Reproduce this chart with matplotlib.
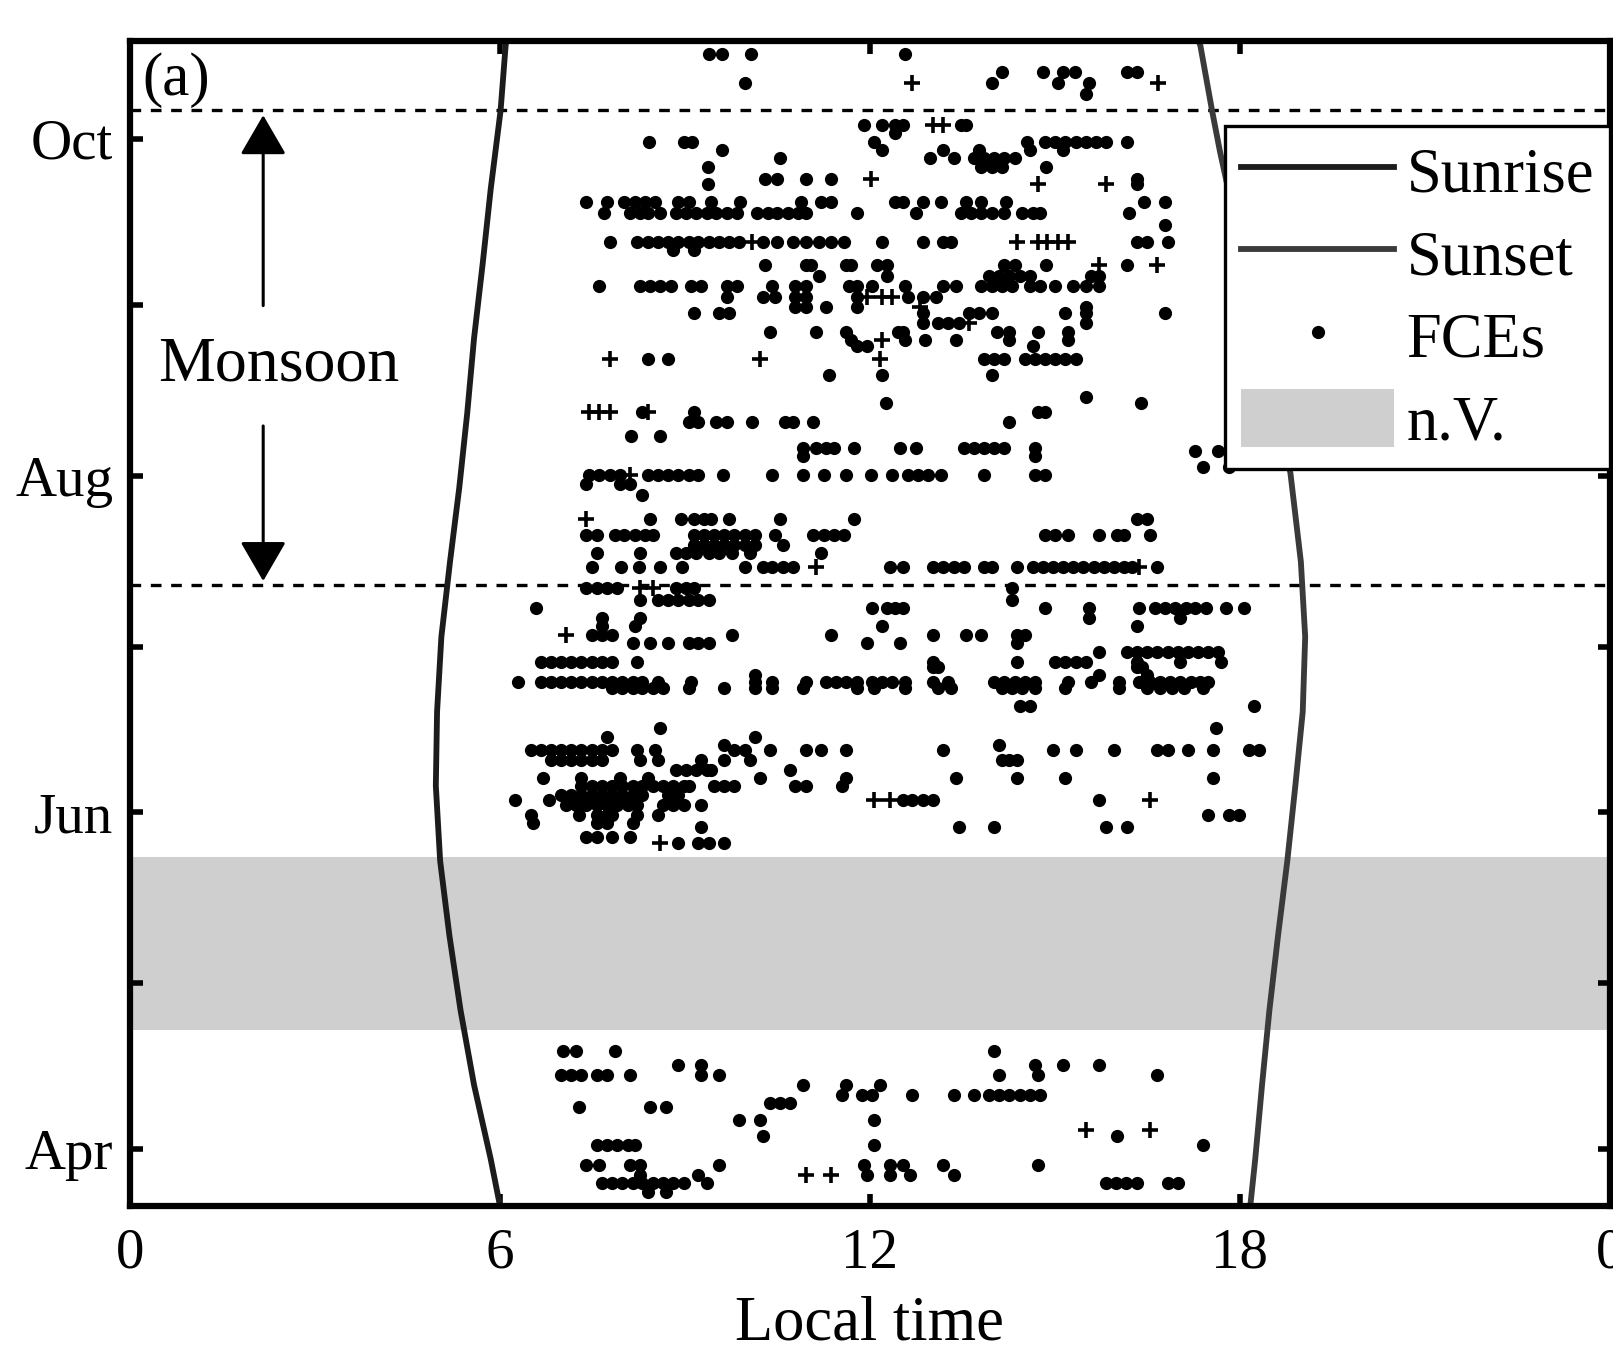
import numpy as np
import matplotlib
matplotlib.use("Agg")
from matplotlib import pyplot as plt

plt.rcParams['font.family'] = ['Liberation Serif', 'DejaVu Serif']

# day of year for the first of each month on the y axis
month_doy = [91, 121, 152, 182, 213, 244, 274]
month_lbl = ['Apr', '', 'Jun', '', 'Aug', '', 'Oct']

# sunrise / sunset (local time, hours) read at several days of year
sunrise_doy = [291.75, 290.6, 279.1, 264.9, 251.4, 237.9, 224.4, 210.8, 197.4, 183.8,
               170.2, 156.8, 143.2, 129.7, 116.2, 102.6, 89.2, 80.75]
sunrise_hr = [6.10, 6.09, 6.01, 5.85, 5.72, 5.58, 5.47, 5.34, 5.19, 5.05,
              4.98, 4.96, 5.03, 5.18, 5.36, 5.58, 5.85, 6.00]
sunset_doy = [291.75, 290.9, 279.1, 271.6, 213.5, 197.4, 183.8, 170.2, 156.8, 143.2,
              129.7, 116.2, 102.6, 89.2, 80.75]
sunset_hr = [17.33, 17.36, 17.55, 17.68, 18.82, 18.99, 19.06, 19.02, 18.90, 18.77,
             18.62, 18.48, 18.36, 18.25, 18.17]

monsoon_start = 193.2
monsoon_end = 279.2
nv_start, nv_end = 112.6, 143.9

# FCEs: one row per day, local times of the events
fce_day = [289.4, 286.2, 284.2, 282.2, 276.5, 275.0, 273.5, 272.0, 270.5, 268.9,
           266.8, 265.9, 262.6, 260.5, 258.4, 255.4, 253.9, 251.2, 249.1, 247.3,
           245.4, 243.6, 242.4, 240.6, 239.1, 237.6, 236.4, 234.1, 231.2, 227.3,
           226.1, 224.6, 222.8, 220.1, 218.0, 217.4, 216.5, 214.6, 213.1, 211.4,
           209.5, 205.1, 202.3, 200.5, 199.0, 196.5, 192.6, 190.5, 189.0, 187.2,
           185.7, 184.2, 182.6, 181.1, 179.3, 178.4, 176.9, 175.7, 174.5, 171.2,
           167.2, 165.7, 164.2, 163.3, 161.5, 159.7, 158.2, 156.7, 155.2, 154.3,
           153.4, 151.5, 150.0, 149.4, 147.6, 146.4,
           108.7, 106.3, 104.4, 102.6, 100.8, 99.3, 98.7, 96.3, 93.3, 91.8,
           88.1, 86.3, 84.8, 83.3]
fce_hours = [
    [9.39, 9.6, 10.07, 12.57],
    [14.14, 14.8, 15.13, 15.32, 16.17, 16.33],
    [9.97, 13.98, 15.05, 15.55],
    [15.5],
    [11.91, 12.2, 12.4, 12.53, 13.48, 13.56],
    [12.4],
    [8.42, 8.98, 9.12, 12.07, 14.55, 14.84, 15.01, 15.17, 15.34, 15.5, 15.67, 15.83, 16.17],
    [9.6, 12.2, 13.19, 13.77, 14.6, 15.13],
    [10.55, 12.98, 13.36, 13.69, 13.85, 14.02, 14.18, 14.35],
    [9.37, 13.81, 13.98, 14.14, 14.86],
    [10.3, 10.5, 10.96, 11.37, 16.33],
    [9.37, 16.33],
    [7.4, 7.74, 8.02, 8.19, 8.36, 8.52, 8.89, 9.06, 9.43, 9.9, 10.88, 11.21, 11.37, 12.4,
     12.53, 12.86, 13.15, 13.56, 13.81, 14.21, 16.45, 16.79],
    [7.69, 8.11, 8.27, 8.4, 8.6, 8.85, 9.02, 9.18, 9.35, 9.51, 9.68, 9.84, 10.17, 10.34,
     10.5, 10.67, 10.84, 10.96, 11.79, 12.74, 13.48, 13.64, 13.81, 13.98, 14.18, 14.47,
     14.64, 14.76, 16.21],
    [16.79],
    [7.78, 8.23, 8.4, 8.56, 8.73, 8.89, 9.06, 9.22, 9.39, 9.55, 9.72, 9.88, 10.26, 10.5,
     10.75, 10.96, 11.17, 11.37, 11.58, 12.2, 12.86, 13.19, 13.31, 16.33, 16.5, 16.83],
    [8.81, 9.14],
    [10.3, 10.96, 11.04, 11.62, 11.7, 12.12, 12.28, 14.18, 14.35, 14.85, 16.17],
    [11.17, 12.28, 13.93, 14.1, 14.26, 14.43, 14.6, 15.59, 15.71],
    [7.61, 8.27, 8.44, 8.6, 8.77, 9.1, 9.26, 9.68, 9.84, 10.42, 10.79, 10.96, 11.66, 11.79,
     12.03, 12.57, 13.19, 13.4, 13.81, 13.98, 14.14, 14.31, 14.6, 14.76, 15.01, 15.3, 15.5,
     15.71],
    [9.68, 10.26, 10.46, 10.79, 10.96, 11.79, 12.61, 12.86, 13.07],
    [10.79, 10.96, 11.29, 11.79, 15.5],
    [9.14, 9.55, 9.72, 12.86, 13.6, 13.77, 13.98, 15.17, 15.5, 16.79],
    [12.86, 13.11, 13.27, 13.44, 15.5],
    [10.38, 11.12, 11.62, 12.45, 12.53, 14.06, 14.26, 14.72, 15.21],
    [11.7, 12.57, 12.9, 13.4, 14.26, 15.21],
    [11.79, 11.95, 14.64],
    [8.4, 8.73, 13.85, 14.02, 14.18, 14.51, 14.68, 14.84, 15.01, 15.17, 15.34],
    [11.33, 12.2, 13.98],
    [15.5],
    [12.26, 16.4],
    [8.31, 9.14, 14.72, 14.84],
    [9.06, 9.22, 9.51, 9.68, 10.09, 10.63, 10.75, 11.08, 14.26],
    [8.13, 8.6],
    [10.92, 11.12, 11.29, 11.41, 11.74, 12.49, 12.74, 13.52, 13.69, 13.85, 14.02, 14.18, 14.68],
    [17.28, 17.65],
    [10.92, 14.68],
    [17.4, 17.82],
    [7.45, 7.61, 7.78, 7.94, 8.4, 8.56, 8.73, 8.89, 9.06, 9.22, 9.61, 10.42, 10.92, 11.25,
     11.62, 12.01, 12.36, 12.61, 12.78, 12.94, 13.15, 13.85, 14.68, 14.84],
    [7.4, 7.94, 8.11],
    [8.3],
    [8.44, 8.93, 9.14, 9.31, 9.43, 9.72, 10.55, 11.74, 16.33, 16.5],
    [7.4, 7.57, 7.86, 8.02, 8.19, 8.36, 8.48, 9.14, 9.31, 9.47, 9.64, 9.8, 9.97, 10.13,
     10.46, 11.08, 11.25, 11.41, 11.58, 14.84, 15.01, 15.21, 15.71, 16.0, 16.12, 16.54],
    [9.14, 9.31, 9.47, 9.64, 9.8, 9.97, 10.13, 10.59],
    [7.57, 8.27, 8.85, 9.02, 9.18, 9.39, 9.55, 9.76, 10.05, 11.21],
    [7.49, 7.96, 8.25, 8.6, 8.95, 9.97, 10.26, 10.42, 10.59, 10.75, 12.32, 12.53, 13.02,
     13.19, 13.36, 13.52, 13.85, 13.98, 14.39, 14.64, 14.8, 14.97, 15.13, 15.3, 15.46,
     15.63, 15.79, 15.96, 16.12, 16.25, 16.66],
    [7.4, 7.57, 7.74, 7.9, 8.85, 9.02, 9.14, 14.31],
    [8.27, 8.56, 8.73, 8.89, 9.06, 9.22, 9.39, 14.31],
    [6.58, 12.03, 12.28, 12.4, 12.53, 14.84, 15.55, 16.37, 16.62, 16.79, 16.95, 17.12,
     17.28, 17.45, 17.78, 18.07],
    [7.65, 8.27, 15.55, 17.03],
    [7.65, 8.19, 12.2, 16.33],
    [7.49, 7.65, 7.82, 9.76, 11.37, 13.02, 13.56, 13.81, 14.39, 14.51],
    [8.15, 8.44, 8.73, 9.06, 9.22, 9.39, 11.95, 12.49, 14.39],
    [15.71, 16.17, 16.33, 16.5, 16.66, 16.83, 16.99, 17.16, 17.32, 17.49, 17.65],
    [6.66, 6.83, 6.99, 7.16, 7.32, 7.49, 7.65, 7.82, 8.23, 13.02, 14.39, 15.01, 15.17,
     15.34, 15.5, 16.33, 17.03, 17.69],
    [13.02, 13.11, 16.33, 16.41],
    [10.13, 15.71, 16.5],
    [6.29, 6.66, 6.83, 6.99, 7.16, 7.32, 7.49, 7.65, 7.82, 7.98, 8.15, 8.31, 8.56, 9.1,
     10.13, 10.42, 10.96, 11.29, 11.45, 11.62, 11.79, 12.03, 12.2, 12.36, 12.57, 13.02,
     13.27, 14.02, 14.18, 14.35, 14.51, 14.68, 15.21, 15.59, 16.04, 16.37, 16.54, 16.7,
     16.87, 17.03, 17.2, 17.36, 17.49],
    [7.82, 7.98, 8.15, 8.31, 8.48, 8.64, 9.06, 9.64, 10.13, 10.42, 10.92, 11.79, 12.07,
     12.57, 13.11, 13.31, 14.14, 14.31, 14.47, 14.68, 15.17, 16.04, 16.5, 16.7, 16.9,
     17.1, 17.4],
    [14.43, 14.6, 18.23],
    [8.6, 17.61],
    [7.74, 10.13],
    [9.64, 14.1],
    [6.5, 6.66, 6.83, 6.99, 7.16, 7.32, 7.49, 7.65, 7.82, 8.23, 8.52, 9.8, 9.97, 10.38,
     10.96, 11.21, 11.62, 13.19, 14.97, 15.34, 15.96, 16.66, 16.83, 17.16, 17.57, 18.15,
     18.31],
    [6.83, 6.99, 7.16, 7.32, 7.49, 7.65, 8.27, 8.56, 9.26, 9.64, 10.05, 14.14, 14.26, 14.39],
    [8.85, 9.02, 9.18, 9.35, 9.43, 10.71],
    [6.7, 7.32, 7.94, 8.4, 10.21, 11.62, 13.4, 14.39, 15.17, 17.57],
    [7.32, 7.49, 7.65, 7.82, 7.98, 8.15, 8.31, 8.48, 8.64, 8.81, 8.98, 9.06, 9.47, 9.64,
     9.8, 10.79, 10.96, 11.54],
    [6.99, 7.16, 7.32, 7.49, 7.65, 7.82, 7.98, 8.15, 8.31, 8.73, 8.89],
    [6.25, 6.79, 12.53, 12.69, 12.86, 13.02, 15.71],
    [7.07, 7.24, 7.4, 7.57, 7.74, 7.9, 8.07, 8.23, 8.64, 8.81, 8.98, 9.26],
    [6.5, 7.28, 7.57, 7.74, 7.82, 8.23, 8.56, 17.49, 17.82, 17.98],
    [6.54, 7.57, 7.74, 8.15],
    [9.26, 13.44, 14.02, 15.83, 16.17],
    [7.4, 7.57, 7.82, 8.11],
    [8.89, 9.22, 9.39, 9.64],
    [7.03, 7.24, 7.86, 14.02],
    [8.89, 9.26, 14.68, 15.13, 15.71],
    [6.99, 7.16, 7.32, 7.57, 7.74, 8.11, 9.26, 9.55, 14.1, 14.72, 16.66],
    [10.92, 11.62, 12.16],
    [11.54, 11.87, 12.03, 12.69, 13.36, 13.69, 13.93, 14.1, 14.26, 14.43, 14.6, 14.76],
    [10.38, 10.55, 10.71],
    [7.28, 8.44, 8.69],
    [9.88, 10.21, 12.07],
    [10.26, 16.0],
    [7.57, 7.74, 7.9, 8.07, 8.19, 12.07, 17.4],
    [7.4, 7.61, 8.11, 8.27, 9.55, 11.91, 12.32, 12.53, 13.19, 14.72],
    [8.27, 9.22, 11.95, 12.32, 12.65, 13.36],
    [7.65, 7.82, 7.98, 8.15, 8.31, 8.48, 8.64, 8.81, 8.98, 9.35, 15.83, 15.99, 16.16,
     16.33, 16.83, 17.0],
    [8.4, 8.69],
]

# weaker events drawn as small crosses
cross_day = [284.2, 284.2, 276.5, 276.5, 266.8, 265.9, 265.9, 255.4, 255.4, 255.4, 255.4,
             255.4, 255.4, 251.2, 251.2, 245.4, 245.4, 245.4, 243.6, 240.6, 237.6, 234.1,
             234.1, 234.1, 224.6, 224.6, 224.6, 224.6, 213.1, 205.1, 196.5, 196.5, 192.6,
             192.6, 184.2, 154.3, 154.3, 154.3, 146.4, 94.5, 94.5, 86.3, 86.3]
cross_hour = [12.68, 16.68, 13.03, 13.19, 12.01, 14.72, 15.83, 10.09, 14.39, 14.72, 14.88,
              15.05, 15.21, 15.71, 16.66, 11.95, 12.2, 12.36, 12.82, 13.6, 12.2, 7.78,
              10.21, 12.16, 7.45, 7.61, 7.78, 8.4, 8.11, 7.4, 11.12, 16.37, 8.27,
              8.48, 7.07, 12.07, 12.32, 16.54, 8.6, 15.5, 16.54, 10.96, 11.37]

fig = plt.figure(figsize=(16.13, 13.51), dpi=100)
ax = fig.add_axes([0.0806, 0.1076, 0.9174, 0.8621])

nv = ax.axhspan(nv_start, nv_end, color='#cfcfcf', lw=0, zorder=0, label='n.V.')

for yy in (monsoon_start, monsoon_end):
    ax.axhline(yy, color='k', lw=2.4, ls=(0, (3.2, 2.9)), zorder=1)

l1, = ax.plot(sunrise_hr, sunrise_doy, color='#1c1c1c', lw=4.2, zorder=2, label='Sunrise')
l2, = ax.plot(sunset_hr, sunset_doy, color='#3a3a3a', lw=4.2, zorder=2, label='Sunset')

xs = np.concatenate([np.array(h) for h in fce_hours])
ys = np.concatenate([[d] * len(h) for d, h in zip(fce_day, fce_hours)])
pts, = ax.plot(xs, ys, 'o', color='k', ms=9.5, mew=0, zorder=3, label='FCEs')
ax.plot(cross_hour, cross_day, '+', color='k', ms=11, mew=2.6, zorder=3)

# monsoon arrows and label
arr = dict(arrowstyle='-|>,head_length=0.62,head_width=0.36', color='k', lw=2.2,
           mutation_scale=40, shrinkA=0, shrinkB=0)
ax.annotate('', xy=(2.16, 278.3), xytext=(2.16, 243.8), arrowprops=arr)
ax.annotate('', xy=(2.16, 193.9), xytext=(2.16, 222.0), arrowprops=arr)
ax.text(2.41, 230.3, 'Monsoon', ha='center', va='baseline', fontsize=46)
ax.text(0.2, 282.0, '(a)', ha='left', va='baseline', fontsize=44)

ax.set_xlim(0, 24)
ax.set_ylim(80.75, 291.75)
ax.set_xticks([0, 6, 12, 18, 24])
ax.set_xticklabels(['0', '6', '12', '18', '0'])
ax.set_yticks(month_doy)
ax.set_yticklabels(month_lbl)
ax.tick_params(axis='both', which='major', direction='in', length=9, width=4,
               top=True, right=True, labelsize=41)
ax.tick_params(axis='x', pad=16)
ax.tick_params(axis='y', pad=12)
for s in ax.spines.values():
    s.set_linewidth(4.5)
ax.set_xlabel('Local time', fontsize=45, labelpad=11)

leg = ax.legend([l1, l2, pts, nv], ['Sunrise', 'Sunset', 'FCEs', 'n.V.'],
                loc='upper right', bbox_to_anchor=(1.0, 0.927), fontsize=45,
                frameon=True, fancybox=False, framealpha=1, edgecolor='k',
                borderpad=0.25, labelspacing=0.29, handlelength=2.45,
                handleheight=1.05, handletextpad=0.2, borderaxespad=0)
leg.get_frame().set_linewidth(2.4)

fig.savefig('out.png', dpi=100)
